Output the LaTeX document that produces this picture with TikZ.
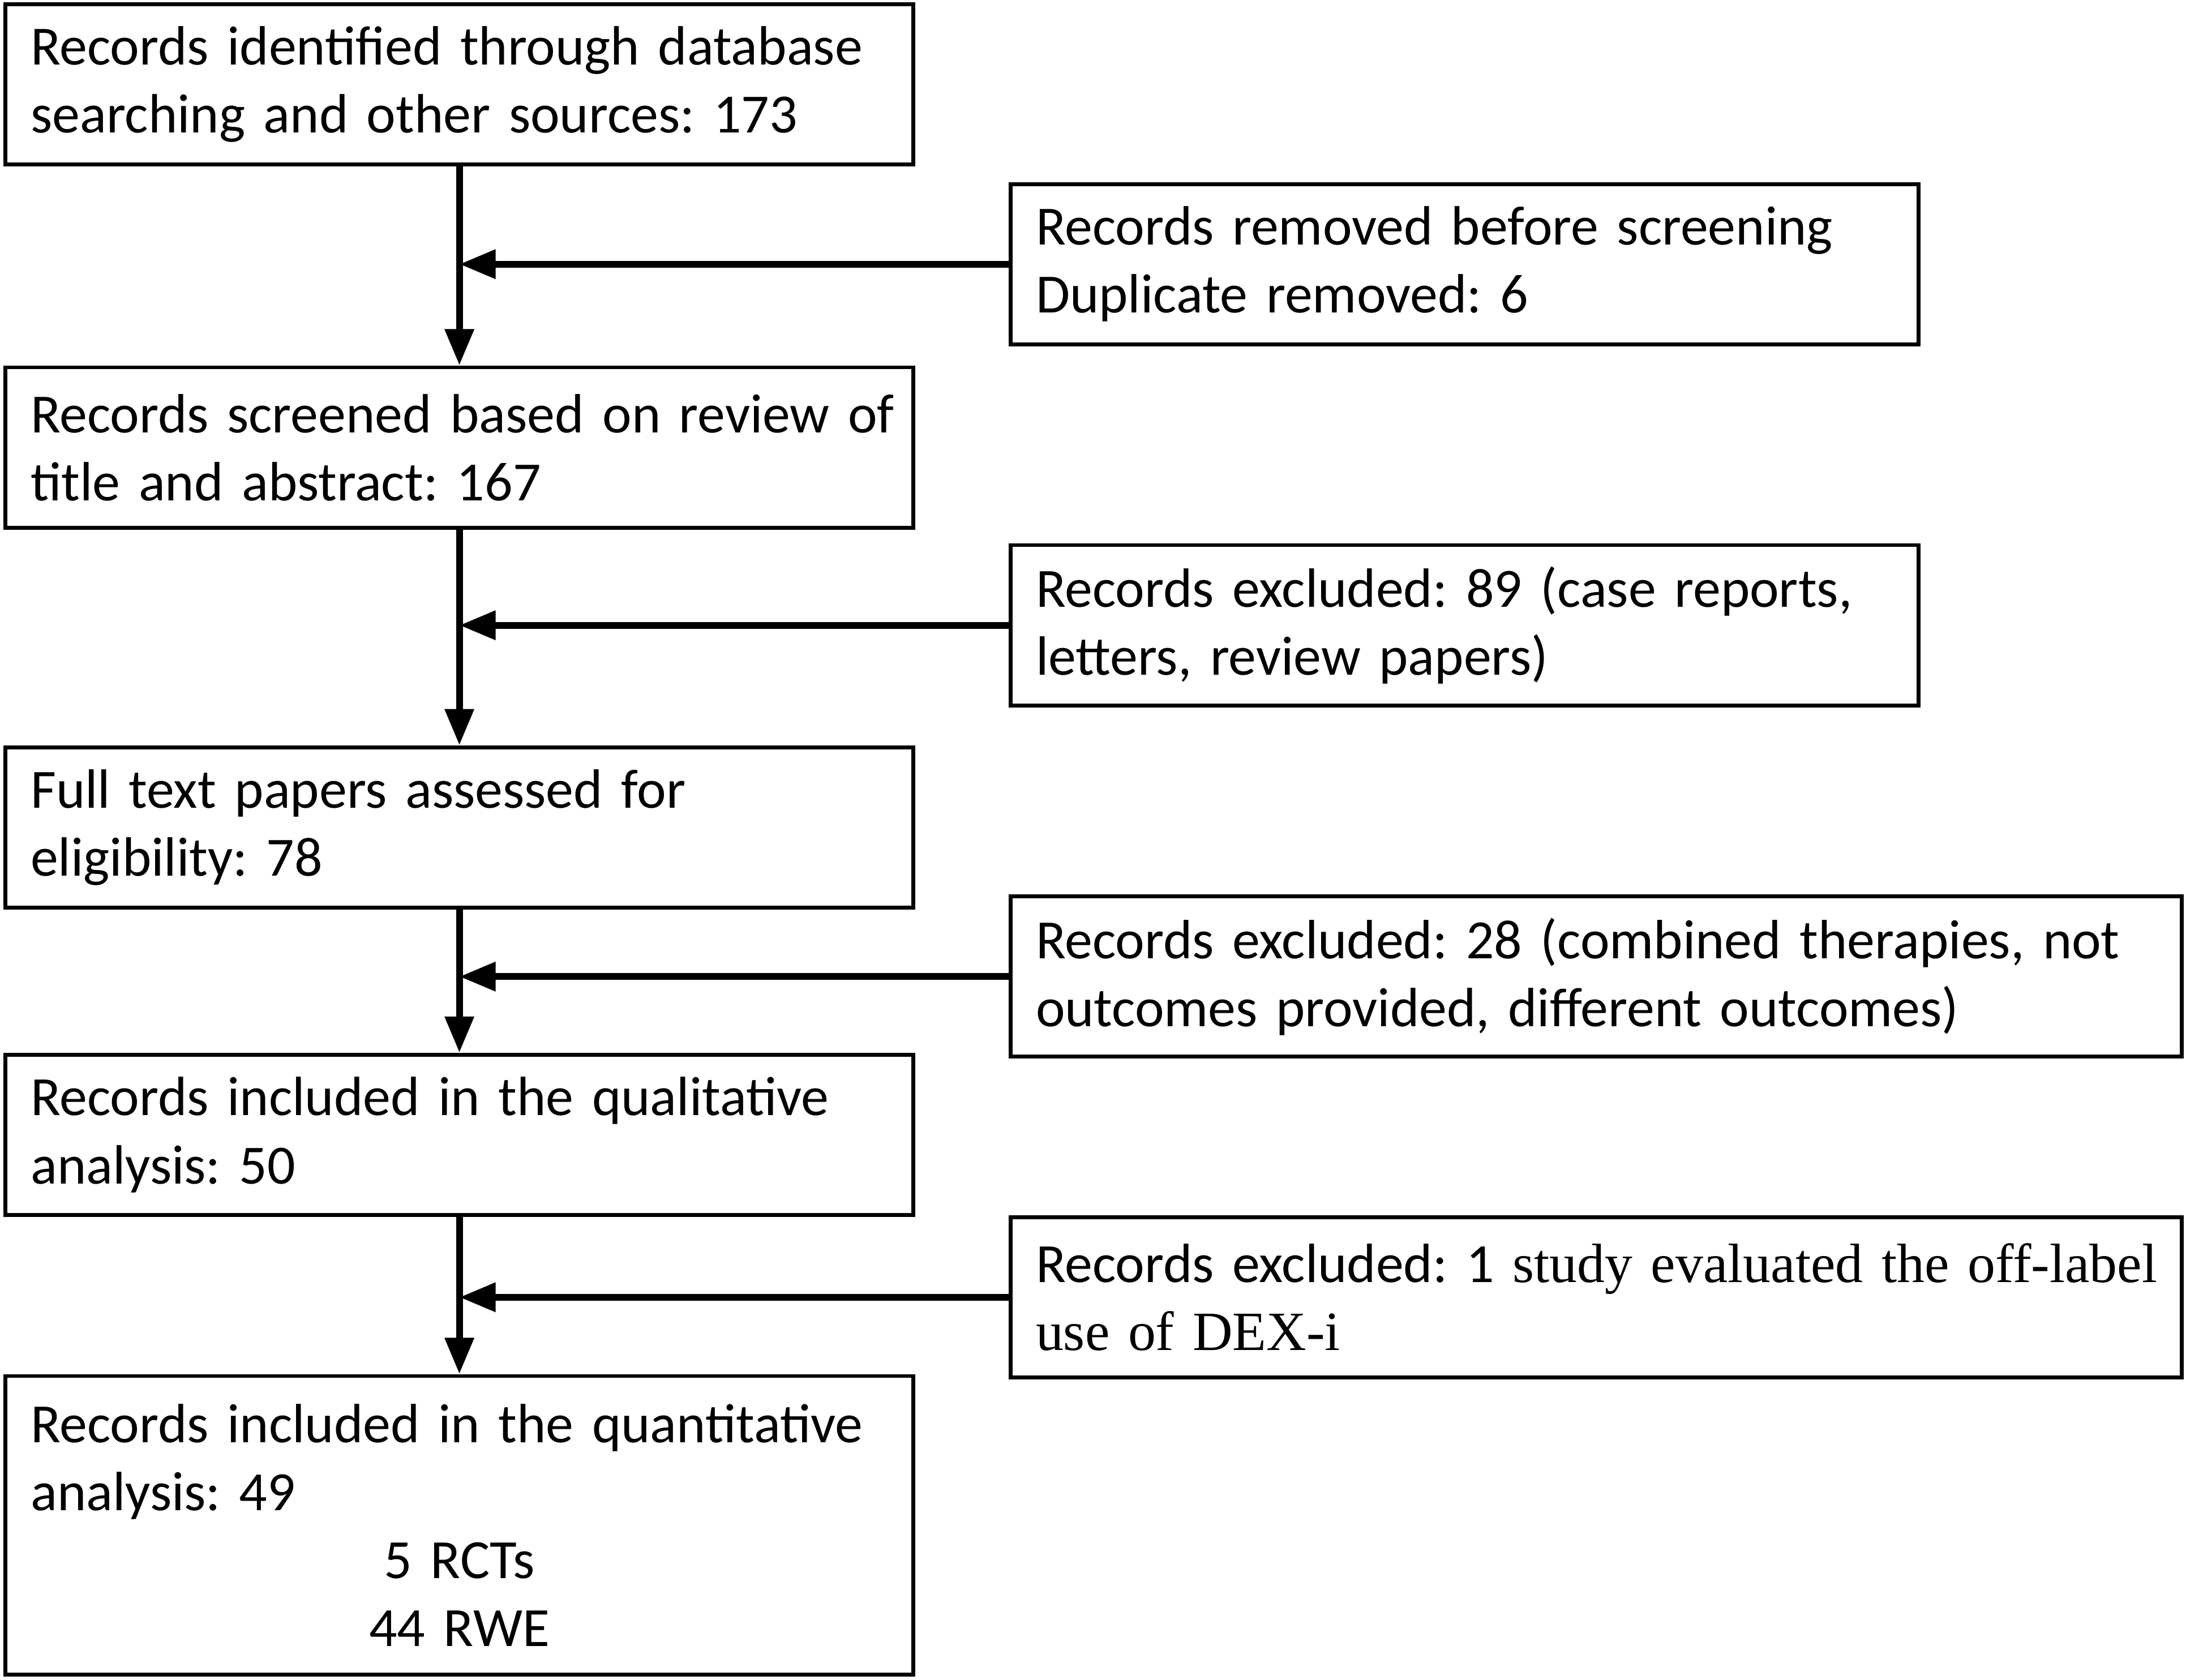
\documentclass[tikz,border=0pt]{standalone}
\usepackage{fontspec}
\setmainfont{Carlito}
\newfontfamily\timesfont{Liberation Serif}
\usetikzlibrary{arrows.meta}
\frenchspacing
\begin{document}
\begin{tikzpicture}[>={Triangle[length=.26cm,width=.2cm]}, line width=.8pt,
  box/.style={draw, line width=.8pt, inner xsep=.18cm, inner ysep=0pt, minimum height=1.15cm, align=left, font=\fontsize{11.3}{13.9}\selectfont},
  leftbox/.style={box, text width=6.15cm},
  rightbox/.style={box, text width=6.15cm},
  widebox/.style={box, text width=8.04cm},
  flow/.style={->, line width=1.4pt}]
\useasboundingbox (0,0) rectangle (15.68,-12.05);

\node [leftbox] (ident) at (3.295,-.605) {Records identified through database\\searching and other sources: 173};
\node [rightbox] (removed) at (10.505,-1.895) {Records removed before screening\\Duplicate removed: 6};
\node [leftbox] (screened) at (3.295,-3.21) {\mbox{Records screened based on review of}\\title and abstract: 167};
\node [rightbox] (exclA) at (10.505,-4.485) {Records excluded: 89 (case reports,\\letters, review papers)};
\node [leftbox] (fulltext) at (3.295,-5.935) {Full text papers assessed for\\eligibility: 78};
\node [widebox] (exclB) at (11.45,-7.005) {Records excluded: 28 (combined therapies, not\\outcomes provided, different outcomes)};
\node [leftbox] (qual) at (3.295,-8.14) {Records included in the qualitative\\analysis: 50};
\node [widebox] (exclC) at (11.45,-9.305) {\mbox{Records excluded: 1 {\timesfont study evaluated the off-label}}\\{\timesfont use of DEX-i}};
\node [leftbox, minimum height=2.14cm] (quant) at (3.295,-10.94) {Records included in the quantitative\\analysis: 49\\\makebox[\linewidth][c]{5 RCTs}\\\makebox[\linewidth][c]{44 RWE}};

\draw [flow](ident)--(screened);
\draw [flow](screened)--(fulltext);
\draw [flow](fulltext)--(qual);
\draw [flow](qual)--(quant);

\draw [flow](removed)--(removed -| ident);
\draw [flow](exclA)--(exclA -| ident);
\draw [flow](exclB)--(exclB -| ident);
\draw [flow](exclC)--(exclC -| ident);
\end{tikzpicture}
\end{document}
